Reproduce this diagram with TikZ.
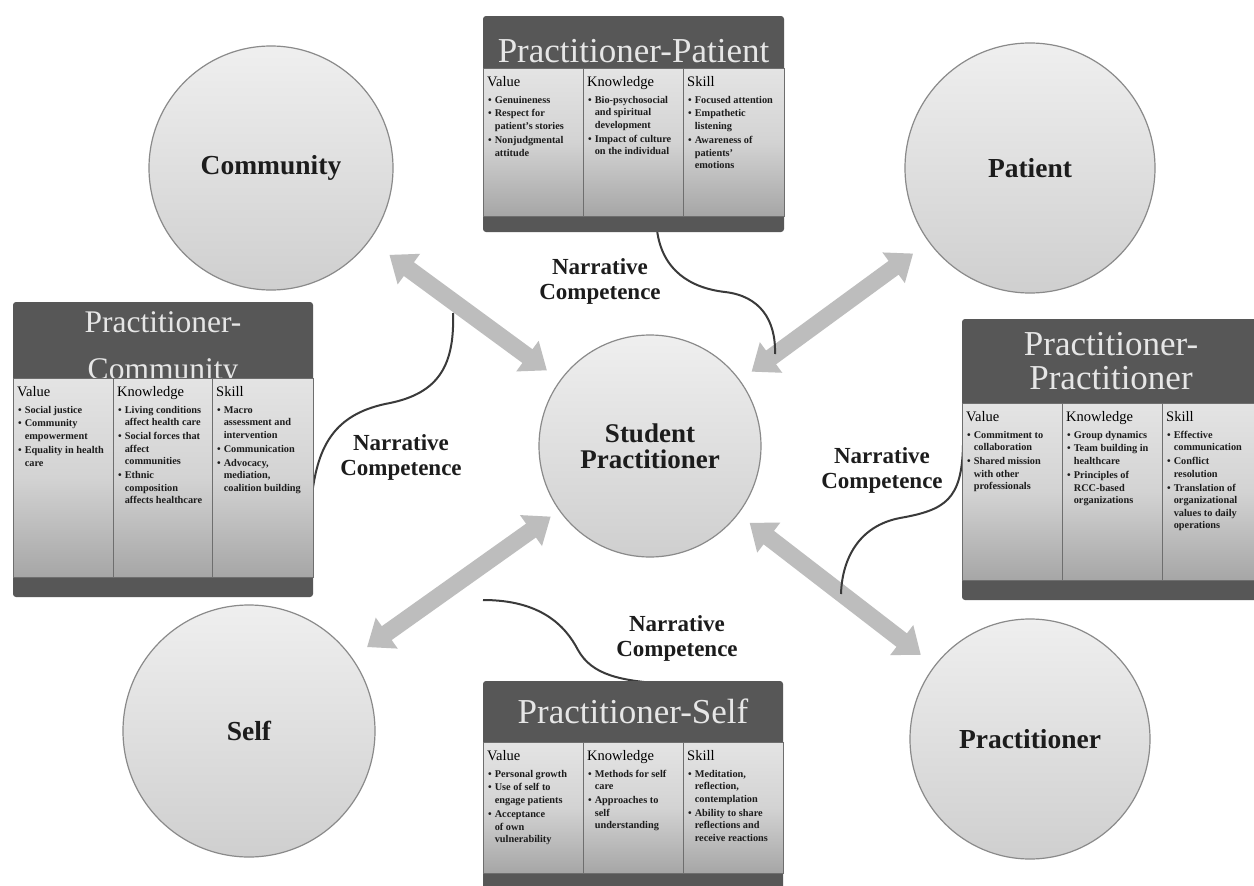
\documentclass[tikz,border=0pt]{standalone}
\usepackage{fontspec}
\setmainfont{Liberation Serif}
\usetikzlibrary{calc}
\definecolor{hdrgray}{HTML}{575757}
\definecolor{titlecol}{HTML}{E6E6E6}
\definecolor{bodytop}{HTML}{E4E4E4}
\definecolor{bodymid}{HTML}{D3D3D3}
\definecolor{bodybot}{HTML}{A6A6A6}
\definecolor{colline}{HTML}{6E6E6E}
\definecolor{circtop}{HTML}{EFEFEF}
\definecolor{circbot}{HTML}{CFCFCF}
\definecolor{circline}{HTML}{8A8A8A}
\definecolor{arrowgray}{HTML}{BDBDBD}
\definecolor{curvecol}{HTML}{3A3A3A}
\definecolor{txt}{HTML}{1C1C1C}
\newcommand\blist[1]{\begin{tabular}[t]{@{}l@{\hspace{3pt}}l@{}}#1\end{tabular}}
\newcommand\nb{\\[1.3pt]\textbullet&}
\newcommand\dblarrow[4]{%
 \path ($(#1)!#3!(#2)$) coordinate (ta) ($(#2)!#4!(#1)$) coordinate (tb);
 \path ($(ta)!24pt!(tb)$) coordinate (ha) ($(tb)!24pt!(ta)$) coordinate (hb);
 \fill[arrowgray] (ta) -- ($(ha)!19pt!90:(tb)$) -- ($(ha)!8.5pt!90:(tb)$) -- ($(hb)!8.5pt!-90:(ta)$) -- ($(hb)!19pt!-90:(ta)$) -- (tb) -- ($(hb)!19pt!90:(ta)$) -- ($(hb)!8.5pt!90:(ta)$) -- ($(ha)!8.5pt!-90:(tb)$) -- ($(ha)!19pt!-90:(tb)$) -- cycle;}
\tikzset{
 hdr/.style={fill=hdrgray, rounded corners=3pt},
 colbox/.style={draw=colline, line width=1pt, top color=bodytop, bottom color=bodybot, middle color=bodymid},
 coltitle/.style={anchor=base, text=titlecol, font=\fontsize{35}{38}\selectfont, inner sep=0pt},
 colhead/.style={anchor=base west, inner sep=0pt, text=black, font=\fontsize{14.5}{16}\selectfont},
 bul/.style={anchor=base west, inner sep=0pt, text=txt, font=\bfseries\fontsize{10.3}{12.6}\selectfont},
 circ/.style={circle, draw=circline, line width=1.2pt, top color=circtop, bottom color=circbot, inner sep=0pt, align=center, text=txt, font=\bfseries\fontsize{27.5}{29}\selectfont},
 nc/.style={align=center, text=txt, font=\bfseries\fontsize{23}{25}\selectfont, inner sep=0pt},
 curve/.style={draw=curvecol, line width=2pt},
}
\begin{document}
\begin{tikzpicture}[x=1pt,y=-1pt]
\useasboundingbox (0,0) rectangle (1254,886);
\clip (0,0) rectangle (1254,886);
\fill[white] (0,0) rectangle (1254,886);

% circles
\node[circ, minimum size=244pt] (community) at (271,168) {Community};
\node[circ, minimum size=250pt] (patient) at (1030,168) {Patient};
\node[circ, minimum size=252pt] (self) at (249,731) {Self};
\node[circ, minimum size=240pt] (practitioner) at (1030,739) {Practitioner};
\node[circ, minimum size=222pt, font=\bfseries\fontsize{27}{26}\selectfont] (student) at (650,446) {Student\\Practitioner};

% arrows
\dblarrow{community}{student}{147pt}{128pt}
\dblarrow{patient}{student}{145pt}{126pt}
\dblarrow{self}{student}{145pt}{122pt}
\dblarrow{practitioner}{student}{138pt}{126pt}

% curves
\coordinate (cvA1) at (657,230); \coordinate (cvA2) at (775,354);
\draw[curve] (cvA1) .. controls (662,270) and (690,288) .. (725,292) .. controls (760,296) and (776,320) .. (cvA2);
\coordinate (cvB1) at (453,313); \coordinate (cvB2) at (312,495);
\draw[curve] (cvB1) .. controls (455,370) and (435,395) .. (385,404) .. controls (335,415) and (318,445) .. (cvB2);
\coordinate (cvC1) at (963,445); \coordinate (cvC2) at (841,594);
\draw[curve] (cvC1) .. controls (962,500) and (945,510) .. (900,518) .. controls (858,526) and (842,560) .. (cvC2);
\coordinate (cvD1) at (483,600); \coordinate (cvD2) at (668,684);
\draw[curve] (cvD1) .. controls (540,600) and (565,625) .. (578,650) .. controls (592,675) and (620,681) .. (cvD2);

% ---------- Practitioner-Patient (top)
\fill[hdr] (483,16) rectangle (784,72);
\fill[hdr] (483,212) rectangle (784,232);
\node[coltitle] (ppT) at (633.5,62) {Practitioner-Patient};
\draw[colbox] (483,68) rectangle (583,216);
\draw[colbox] (583,68) rectangle (683,216);
\draw[colbox] (683,68) rectangle (784,216);
\node[colhead] (ppV) at (487,86) {Value};
\node[colhead] (ppK) at (587,86) {Knowledge};
\node[colhead] (ppS) at (687,86) {Skill};
\node[bul] (ppVl) at (488,103) {\blist{\textbullet&Genuineness\nb Respect for\\&patient's stories\nb Nonjudgmental\\&attitude}};
\node[bul] (ppKl) at (588,103) {\blist{\textbullet&Bio-psychosocial\\&and spiritual\\&development\nb Impact of culture\\&on the individual}};
\node[bul] (ppSl) at (688,103) {\blist{\textbullet&Focused attention\nb Empathetic\\&listening\nb Awareness of\\&patients'\\&emotions}};

% ---------- Practitioner-Community (left)
\fill[hdr] (13,302) rectangle (313,382);
\fill[hdr] (13,573) rectangle (313,597);
\node[coltitle, font=\fontsize{31.5}{34}\selectfont] (pcT1) at (163,332) {Practitioner-};
\node[coltitle, font=\fontsize{31.5}{34}\selectfont] (pcT2) at (163,379) {Community};
\draw[colbox] (13,378) rectangle (113,577);
\draw[colbox] (113,378) rectangle (212,577);
\draw[colbox] (212,378) rectangle (313,577);
\node[colhead] (pcV) at (17,396) {Value};
\node[colhead] (pcK) at (117,396) {Knowledge};
\node[colhead] (pcS) at (216,396) {Skill};
\node[bul] (pcVl) at (18,413) {\blist{\textbullet&Social justice\nb Community\\&empowerment\nb Equality in health\\&care}};
\node[bul] (pcKl) at (118,413) {\blist{\textbullet&Living conditions\\&affect health care\nb Social forces that\\&affect\\&communities\nb Ethnic\\&composition\\&affects healthcare}};
\node[bul] (pcSl) at (217,413) {\blist{\textbullet&Macro\\&assessment and\\&intervention\nb Communication\nb Advocacy,\\&mediation,\\&coalition building}};

% ---------- Practitioner-Practitioner (right)
\fill[hdr] (962,319) rectangle (1262,407);
\fill[hdr] (962,576) rectangle (1262,600);
\node[coltitle] (prT1) at (1111,355) {Practitioner-};
\node[coltitle] (prT2) at (1111,389) {Practitioner};
\draw[colbox] (962,403) rectangle (1062,580);
\draw[colbox] (1062,403) rectangle (1162,580);
\draw[colbox] (1162,403) rectangle (1262,580);
\node[colhead] (prV) at (966,421) {Value};
\node[colhead] (prK) at (1066,421) {Knowledge};
\node[colhead] (prS) at (1166,421) {Skill};
\node[bul] (prVl) at (967,438) {\blist{\textbullet&Commitment to\\&collaboration\nb Shared mission\\&with other\\&professionals}};
\node[bul] (prKl) at (1067,438) {\blist{\textbullet&Group dynamics\nb Team building in\\&healthcare\nb Principles of\\&RCC-based\\&organizations}};
\node[bul] (prSl) at (1167,438) {\blist{\textbullet&Effective\\&communication\nb Conflict\\&resolution\nb Translation of\\&organizational\\&values to daily\\&operations}};

% ---------- Practitioner-Self (bottom)
\fill[hdr] (483,681) rectangle (783,746);
\fill[hdr] (483,869) rectangle (783,892);
\node[coltitle] (psT) at (633,723) {Practitioner-Self};
\draw[colbox] (483,742) rectangle (583,873);
\draw[colbox] (583,742) rectangle (683,873);
\draw[colbox] (683,742) rectangle (783,873);
\node[colhead] (psV) at (487,760) {Value};
\node[colhead] (psK) at (587,760) {Knowledge};
\node[colhead] (psS) at (687,760) {Skill};
\node[bul] (psVl) at (488,777) {\blist{\textbullet&Personal growth\nb Use of self to\\&engage patients\nb Acceptance\\&of own\\&vulnerability}};
\node[bul] (psKl) at (588,777) {\blist{\textbullet&Methods for self\\&care\nb Approaches to\\&self\\&understanding}};
\node[bul] (psSl) at (688,777) {\blist{\textbullet&Meditation,\\&reflection,\\&contemplation\nb Ability to share\\&reflections and\\&receive reactions}};

% narrative competence labels
\node[nc] (ncTop) at (600,281) {Narrative\\Competence};
\node[nc] (ncLeft) at (401,457) {Narrative\\Competence};
\node[nc] (ncRight) at (882,470) {Narrative\\Competence};
\node[nc] (ncBottom) at (677,638) {Narrative\\Competence};
\end{tikzpicture}
\end{document}
